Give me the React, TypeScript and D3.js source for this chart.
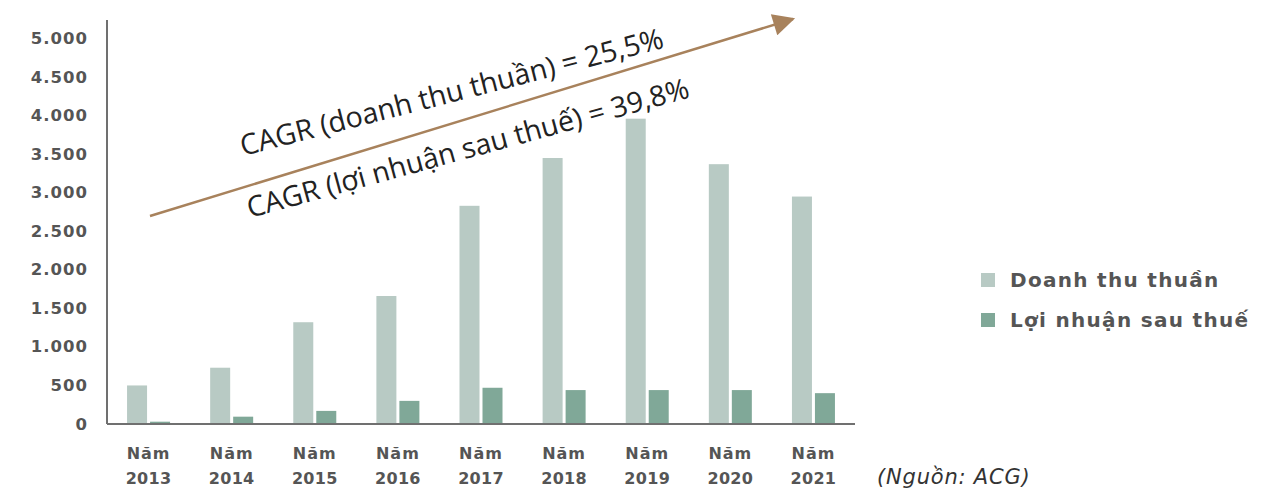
import React from "react";
import * as d3 from "d3";

// Revenue and profit after tax, billion VND
const years = ["2013", "2014", "2015", "2016", "2017", "2018", "2019", "2020", "2021"];
const revenue = [500, 730, 1320, 1660, 2830, 3450, 3960, 3370, 2950];
const profit = [30, 95, 170, 300, 470, 440, 440, 440, 400];
const yTicks = [0, 500, 1000, 1500, 2000, 2500, 3000, 3500, 4000, 4500, 5000];
const seriesNames = ["Doanh thu thuần", "Lợi nhuận sau thuế"];
const cagrLabels = ["CAGR (doanh thu thuần) = 25,5%", "CAGR (lợi nhuận sau thuế) = 39,8%"];
const sourceNote = "(Nguồn: ACG)";

const W = 1280;
const H = 490;
const LIGHT = "#b8cac4";
const DARK = "#80a898";
const AXIS = "#707070";
const LABEL = "#555555";
const ARROW = "#a8825c";
const FONT = "'DejaVu Sans', Verdana, sans-serif";

export default function App() {
  const x0 = 107;
  const x1 = 855;
  const x = d3.scaleBand<string>().domain(years).range([x0, x1]).paddingInner(0).paddingOuter(0);
  const y = d3.scaleLinear().domain([0, 5000]).range([424, 38.5]);
  const barW = 20;
  const gap = 3;

  const fmt = (v: number) => d3.format(",")(v).replace(/,/g, ".");

  return (
    <svg width={W} height={H} style={{ position: "absolute", left: 0, top: 0, background: "#fff" }}>
      <defs>
        <marker id="arrowHead" viewBox="0 0 10 10" refX="9" refY="5" markerWidth="24" markerHeight="22"
          orient="auto" markerUnits="userSpaceOnUse">
          <path d="M0,0 L10,5 L0,10 Z" fill={ARROW} />
        </marker>
      </defs>

      {/* y tick labels */}
      {yTicks.map((t) => (
        <text key={t} x={88} y={y(t)} textAnchor="end" dominantBaseline="central"
          fontFamily={FONT} fontWeight="bold" fontSize={16.5} fill={LABEL} letterSpacing={1}>
          {fmt(t)}
        </text>
      ))}

      {/* bars */}
      {years.map((yr, i) => {
        const cx = x(yr)! + x.bandwidth() / 2;
        return (
          <g key={yr}>
            <rect x={cx - gap / 2 - barW} y={y(revenue[i])} width={barW} height={y(0) - y(revenue[i])} fill={LIGHT} />
            <rect x={cx + gap / 2} y={y(profit[i])} width={barW} height={y(0) - y(profit[i])} fill={DARK} />
            <text x={cx} y={453} textAnchor="middle" dominantBaseline="central"
              fontFamily={FONT} fontWeight="bold" fontSize={16} fill={LABEL} letterSpacing={1}>Năm</text>
            <text x={cx} y={478} textAnchor="middle" dominantBaseline="central"
              fontFamily={FONT} fontWeight="bold" fontSize={16} fill={LABEL} letterSpacing={0.3}>{yr}</text>
          </g>
        );
      })}

      {/* axes */}
      <line x1={x0} x2={x0} y1={20} y2={y(0)} stroke={AXIS} strokeWidth={2} />
      <line x1={x0} x2={x1} y1={y(0)} y2={y(0)} stroke={AXIS} strokeWidth={2} />

      {/* growth arrow */}
      <line x1={150} y1={216} x2={793} y2={19} stroke={ARROW} strokeWidth={2.5} markerEnd="url(#arrowHead)" />

      <text x={243} y={156} transform="rotate(-14.4 243 156)" fontFamily="'Open Sans', sans-serif" fontSize={28.7} fill="#222">
        {cagrLabels[0]}
      </text>
      <text x={250} y={218} transform="rotate(-15.3 250 218)" fontFamily="'Open Sans', sans-serif" fontSize={28.5} fill="#222">
        {cagrLabels[1]}
      </text>

      {/* legend */}
      {seriesNames.map((name, i) => (
        <g key={name}>
          <rect x={981} y={273 + i * 40} width={14} height={14} fill={i === 0 ? LIGHT : DARK} />
          <text x={1010} y={280 + i * 40} dominantBaseline="central" fontFamily={FONT} fontWeight="bold"
            fontSize={20} fill={LABEL} letterSpacing={1.3}>{name}</text>
        </g>
      ))}

      <text x={877} y={477} dominantBaseline="central" fontFamily={FONT} fontStyle="italic" fontSize={21}
        fill="#333" letterSpacing={0.8}>
        {sourceNote}
      </text>
    </svg>
  );
}
